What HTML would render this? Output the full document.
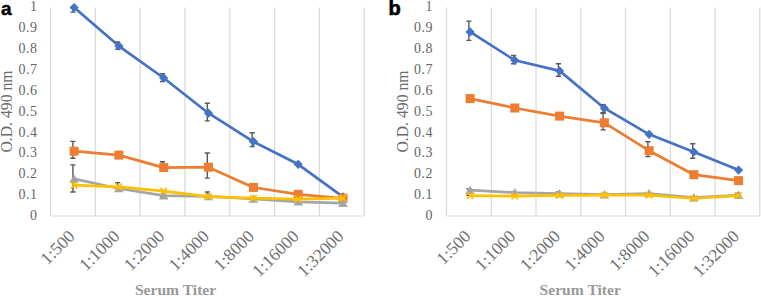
<!DOCTYPE html>
<html><head><meta charset="utf-8"><style>
html,body{margin:0;padding:0;background:#fff;}
body{width:761px;height:296px;overflow:hidden;}
svg{display:block;}
.yl{font-family:"Liberation Serif",serif;font-size:14px;fill:#666;text-anchor:end;letter-spacing:0.5px;}
.xl{font-family:"Liberation Serif",serif;font-size:17.5px;fill:#707070;text-anchor:end;}
.yt{font-family:"Liberation Serif",serif;font-size:15.7px;fill:#6a6a6a;text-anchor:middle;}
.xt{font-family:"Liberation Serif",serif;font-size:15.6px;font-weight:bold;fill:#999;}
.lt{font-family:"Liberation Sans",sans-serif;font-size:20px;font-weight:bold;fill:#000;stroke:#000;stroke-width:0.6px;}
</style></head><body>
<svg width="761" height="296" viewBox="0 0 761 296">
<line x1="50.5" y1="7.4" x2="50.5" y2="216.0" stroke="#d9d9d9" stroke-width="1.2"/>
<line x1="95.3" y1="7.4" x2="95.3" y2="216.0" stroke="#d9d9d9" stroke-width="1.2"/>
<line x1="140.1" y1="7.4" x2="140.1" y2="216.0" stroke="#d9d9d9" stroke-width="1.2"/>
<line x1="184.9" y1="7.4" x2="184.9" y2="216.0" stroke="#d9d9d9" stroke-width="1.2"/>
<line x1="229.8" y1="7.4" x2="229.8" y2="216.0" stroke="#d9d9d9" stroke-width="1.2"/>
<line x1="274.6" y1="7.4" x2="274.6" y2="216.0" stroke="#d9d9d9" stroke-width="1.2"/>
<line x1="319.4" y1="7.4" x2="319.4" y2="216.0" stroke="#d9d9d9" stroke-width="1.2"/>
<line x1="364.2" y1="7.4" x2="364.2" y2="216.0" stroke="#d9d9d9" stroke-width="1.2"/>
<line x1="50.5" y1="216.0" x2="364.2" y2="216.0" stroke="#d9d9d9" stroke-width="1.2"/>
<text x="37.6" y="219.9" class="yl">0</text>
<text x="37.6" y="199.1" class="yl">0.1</text>
<text x="37.6" y="178.2" class="yl">0.2</text>
<text x="37.6" y="157.3" class="yl">0.3</text>
<text x="37.6" y="136.5" class="yl">0.4</text>
<text x="37.6" y="115.7" class="yl">0.5</text>
<text x="37.6" y="94.8" class="yl">0.6</text>
<text x="37.6" y="74.0" class="yl">0.7</text>
<text x="37.6" y="53.1" class="yl">0.8</text>
<text x="37.6" y="32.2" class="yl">0.9</text>
<text x="37.6" y="11.4" class="yl">1</text>
<text transform="translate(75.8,237.3) rotate(-45)" class="xl">1:500</text>
<text transform="translate(120.6,237.3) rotate(-45)" class="xl">1:1000</text>
<text transform="translate(165.4,237.3) rotate(-45)" class="xl">1:2000</text>
<text transform="translate(210.2,237.3) rotate(-45)" class="xl">1:4000</text>
<text transform="translate(255.1,237.3) rotate(-45)" class="xl">1:8000</text>
<text transform="translate(299.9,237.3) rotate(-45)" class="xl">1:16000</text>
<text transform="translate(344.7,237.3) rotate(-45)" class="xl">1:32000</text>
<text transform="translate(11.7,111.5) rotate(-90)" class="yt">O.D. 490 nm</text>
<text x="134.9" y="294.8" class="xt">Serum Titer</text>
<text x="1.0" y="14.6" class="lt" style="stroke-width:0.45px;font-size:19px">a</text>
<polyline points="74.1,7.5 118.9,46.1 163.7,78.0 208.5,113.2 253.4,141.6 298.2,164.3 343.0,196.8" fill="none" stroke="#4472C4" stroke-width="2.7" stroke-linejoin="round" stroke-linecap="round"/>
<path d="M72.9,7.5 V12.1 M70.3,7.5 H75.5 M70.3,12.1 H75.5" stroke="#595959" stroke-width="1.4" fill="none"/>
<path d="M117.7,41.9 V49.2 M115.1,41.9 H120.3 M115.1,49.2 H120.3" stroke="#595959" stroke-width="1.4" fill="none"/>
<path d="M162.5,73.6 V81.5 M159.9,73.6 H165.1 M159.9,81.5 H165.1" stroke="#595959" stroke-width="1.4" fill="none"/>
<path d="M207.3,103.2 V120.9 M204.8,103.2 H209.9 M204.8,120.9 H209.9" stroke="#595959" stroke-width="1.4" fill="none"/>
<path d="M252.2,132.8 V146.6 M249.6,132.8 H254.8 M249.6,146.6 H254.8" stroke="#595959" stroke-width="1.4" fill="none"/>
<path d="M341.8,194.1 V199.3 M339.2,194.1 H344.4 M339.2,199.3 H344.4" stroke="#595959" stroke-width="1.4" fill="none"/>
<path d="M74.1,2.9 L78.7,7.5 L74.1,12.1 L69.5,7.5Z" fill="#4472C4"/>
<path d="M118.9,41.5 L123.5,46.1 L118.9,50.7 L114.3,46.1Z" fill="#4472C4"/>
<path d="M163.7,73.4 L168.3,78.0 L163.7,82.6 L159.1,78.0Z" fill="#4472C4"/>
<path d="M208.5,108.6 L213.1,113.2 L208.5,117.8 L203.9,113.2Z" fill="#4472C4"/>
<path d="M253.4,137.0 L258.0,141.6 L253.4,146.2 L248.8,141.6Z" fill="#4472C4"/>
<path d="M298.2,159.7 L302.8,164.3 L298.2,168.9 L293.6,164.3Z" fill="#4472C4"/>
<path d="M343.0,192.2 L347.6,196.8 L343.0,201.4 L338.4,196.8Z" fill="#4472C4"/>
<polyline points="74.1,151.2 118.9,155.1 163.7,167.6 208.5,167.2 253.4,187.4 298.2,194.3 343.0,198.3" fill="none" stroke="#ED7D31" stroke-width="2.7" stroke-linejoin="round" stroke-linecap="round"/>
<path d="M72.9,141.4 V158.2 M70.3,141.4 H75.5 M70.3,158.2 H75.5" stroke="#595959" stroke-width="1.4" fill="none"/>
<path d="M162.5,161.8 V170.1 M159.9,161.8 H165.1 M159.9,170.1 H165.1" stroke="#595959" stroke-width="1.4" fill="none"/>
<path d="M207.3,153.0 V178.1 M204.8,153.0 H209.9 M204.8,178.1 H209.9" stroke="#595959" stroke-width="1.4" fill="none"/>
<rect x="69.6" y="146.7" width="9" height="9" fill="#ED7D31"/>
<rect x="114.4" y="150.6" width="9" height="9" fill="#ED7D31"/>
<rect x="159.2" y="163.1" width="9" height="9" fill="#ED7D31"/>
<rect x="204.0" y="162.7" width="9" height="9" fill="#ED7D31"/>
<rect x="248.9" y="182.9" width="9" height="9" fill="#ED7D31"/>
<rect x="293.7" y="189.8" width="9" height="9" fill="#ED7D31"/>
<rect x="338.5" y="193.8" width="9" height="9" fill="#ED7D31"/>
<polyline points="74.1,178.9 118.9,188.5 163.7,195.6 208.5,196.4 253.4,198.9 298.2,201.8 343.0,203.1" fill="none" stroke="#A5A5A5" stroke-width="2.7" stroke-linejoin="round" stroke-linecap="round"/>
<path d="M72.9,164.9 V192.0 M70.3,164.9 H75.5 M70.3,192.0 H75.5" stroke="#595959" stroke-width="1.4" fill="none"/>
<path d="M117.7,182.6 V191.0 M115.1,182.6 H120.3 M115.1,191.0 H120.3" stroke="#595959" stroke-width="1.4" fill="none"/>
<path d="M162.5,191.0 V197.2 M159.9,191.0 H165.1 M159.9,197.2 H165.1" stroke="#595959" stroke-width="1.4" fill="none"/>
<path d="M207.3,192.0 V199.3 M204.8,192.0 H209.9 M204.8,199.3 H209.9" stroke="#595959" stroke-width="1.4" fill="none"/>
<path d="M74.1,174.3 L78.9,182.7 L69.3,182.7Z" fill="#A5A5A5"/>
<path d="M118.9,183.9 L123.7,192.3 L114.1,192.3Z" fill="#A5A5A5"/>
<path d="M163.7,191.0 L168.5,199.4 L158.9,199.4Z" fill="#A5A5A5"/>
<path d="M208.5,191.8 L213.3,200.2 L203.7,200.2Z" fill="#A5A5A5"/>
<path d="M253.4,194.3 L258.2,202.7 L248.6,202.7Z" fill="#A5A5A5"/>
<path d="M298.2,197.2 L303.0,205.6 L293.4,205.6Z" fill="#A5A5A5"/>
<path d="M343.0,198.5 L347.8,206.9 L338.2,206.9Z" fill="#A5A5A5"/>
<polyline points="74.1,185.1 118.9,186.8 163.7,191.2 208.5,196.6 253.4,198.1 298.2,199.1 343.0,198.1" fill="none" stroke="#FFC000" stroke-width="2.7" stroke-linejoin="round" stroke-linecap="round"/>
<path d="M70.8,181.8 L77.4,188.4 M77.4,181.8 L70.8,188.4" stroke="#FFC000" stroke-width="1.6"/>
<path d="M115.6,183.5 L122.2,190.1 M122.2,183.5 L115.6,190.1" stroke="#FFC000" stroke-width="1.6"/>
<path d="M160.4,187.9 L167.0,194.5 M167.0,187.9 L160.4,194.5" stroke="#FFC000" stroke-width="1.6"/>
<path d="M205.2,193.3 L211.8,199.9 M211.8,193.3 L205.2,199.9" stroke="#FFC000" stroke-width="1.6"/>
<path d="M250.1,194.8 L256.7,201.4 M256.7,194.8 L250.1,201.4" stroke="#FFC000" stroke-width="1.6"/>
<path d="M294.9,195.8 L301.5,202.4 M301.5,195.8 L294.9,202.4" stroke="#FFC000" stroke-width="1.6"/>
<path d="M339.7,194.8 L346.3,201.4 M346.3,194.8 L339.7,201.4" stroke="#FFC000" stroke-width="1.6"/>
<line x1="446.5" y1="7.4" x2="446.5" y2="216.0" stroke="#d9d9d9" stroke-width="1.2"/>
<line x1="491.3" y1="7.4" x2="491.3" y2="216.0" stroke="#d9d9d9" stroke-width="1.2"/>
<line x1="536.0" y1="7.4" x2="536.0" y2="216.0" stroke="#d9d9d9" stroke-width="1.2"/>
<line x1="580.8" y1="7.4" x2="580.8" y2="216.0" stroke="#d9d9d9" stroke-width="1.2"/>
<line x1="625.5" y1="7.4" x2="625.5" y2="216.0" stroke="#d9d9d9" stroke-width="1.2"/>
<line x1="670.3" y1="7.4" x2="670.3" y2="216.0" stroke="#d9d9d9" stroke-width="1.2"/>
<line x1="715.0" y1="7.4" x2="715.0" y2="216.0" stroke="#d9d9d9" stroke-width="1.2"/>
<line x1="759.8" y1="7.4" x2="759.8" y2="216.0" stroke="#d9d9d9" stroke-width="1.2"/>
<line x1="446.5" y1="216.0" x2="759.8" y2="216.0" stroke="#d9d9d9" stroke-width="1.2"/>
<text x="433.1" y="219.9" class="yl">0</text>
<text x="433.1" y="199.1" class="yl">0.1</text>
<text x="433.1" y="178.2" class="yl">0.2</text>
<text x="433.1" y="157.3" class="yl">0.3</text>
<text x="433.1" y="136.5" class="yl">0.4</text>
<text x="433.1" y="115.7" class="yl">0.5</text>
<text x="433.1" y="94.8" class="yl">0.6</text>
<text x="433.1" y="74.0" class="yl">0.7</text>
<text x="433.1" y="53.1" class="yl">0.8</text>
<text x="433.1" y="32.2" class="yl">0.9</text>
<text x="433.1" y="11.4" class="yl">1</text>
<text transform="translate(471.8,237.3) rotate(-45)" class="xl">1:500</text>
<text transform="translate(516.5,237.3) rotate(-45)" class="xl">1:1000</text>
<text transform="translate(561.3,237.3) rotate(-45)" class="xl">1:2000</text>
<text transform="translate(606.0,237.3) rotate(-45)" class="xl">1:4000</text>
<text transform="translate(650.8,237.3) rotate(-45)" class="xl">1:8000</text>
<text transform="translate(695.6,237.3) rotate(-45)" class="xl">1:16000</text>
<text transform="translate(740.3,237.3) rotate(-45)" class="xl">1:32000</text>
<text transform="translate(407.5,111.5) rotate(-90)" class="yt">O.D. 490 nm</text>
<text x="539.6" y="294.8" class="xt">Serum Titer</text>
<text x="388.5" y="15.2" class="lt">b</text>
<polyline points="470.1,31.9 514.8,60.3 559.6,70.9 604.4,108.2 649.1,134.3 693.9,152.0 738.6,170.1" fill="none" stroke="#4472C4" stroke-width="2.7" stroke-linejoin="round" stroke-linecap="round"/>
<path d="M468.9,21.1 V40.4 M466.3,21.1 H471.5 M466.3,40.4 H471.5" stroke="#595959" stroke-width="1.4" fill="none"/>
<path d="M513.6,55.5 V63.8 M511.0,55.5 H516.2 M511.0,63.8 H516.2" stroke="#595959" stroke-width="1.4" fill="none"/>
<path d="M558.4,63.8 V76.3 M555.8,63.8 H561.0 M555.8,76.3 H561.0" stroke="#595959" stroke-width="1.4" fill="none"/>
<path d="M603.1,104.7 V112.8 M600.5,104.7 H605.8 M600.5,112.8 H605.8" stroke="#595959" stroke-width="1.4" fill="none"/>
<path d="M692.7,143.7 V158.2 M690.1,143.7 H695.3 M690.1,158.2 H695.3" stroke="#595959" stroke-width="1.4" fill="none"/>
<path d="M470.1,27.3 L474.7,31.9 L470.1,36.5 L465.5,31.9Z" fill="#4472C4"/>
<path d="M514.8,55.7 L519.4,60.3 L514.8,64.9 L510.2,60.3Z" fill="#4472C4"/>
<path d="M559.6,66.3 L564.2,70.9 L559.6,75.5 L555.0,70.9Z" fill="#4472C4"/>
<path d="M604.4,103.6 L609.0,108.2 L604.4,112.8 L599.8,108.2Z" fill="#4472C4"/>
<path d="M649.1,129.7 L653.7,134.3 L649.1,138.9 L644.5,134.3Z" fill="#4472C4"/>
<path d="M693.9,147.4 L698.5,152.0 L693.9,156.6 L689.3,152.0Z" fill="#4472C4"/>
<path d="M738.6,165.5 L743.2,170.1 L738.6,174.7 L734.0,170.1Z" fill="#4472C4"/>
<polyline points="470.1,98.6 514.8,108.0 559.6,116.1 604.4,122.8 649.1,150.7 693.9,174.7 738.6,180.6" fill="none" stroke="#ED7D31" stroke-width="2.7" stroke-linejoin="round" stroke-linecap="round"/>
<path d="M603.1,113.2 V129.9 M600.5,113.2 H605.8 M600.5,129.9 H605.8" stroke="#595959" stroke-width="1.4" fill="none"/>
<path d="M647.9,141.8 V156.6 M645.3,141.8 H650.5 M645.3,156.6 H650.5" stroke="#595959" stroke-width="1.4" fill="none"/>
<rect x="465.6" y="94.1" width="9" height="9" fill="#ED7D31"/>
<rect x="510.3" y="103.5" width="9" height="9" fill="#ED7D31"/>
<rect x="555.1" y="111.6" width="9" height="9" fill="#ED7D31"/>
<rect x="599.9" y="118.3" width="9" height="9" fill="#ED7D31"/>
<rect x="644.6" y="146.2" width="9" height="9" fill="#ED7D31"/>
<rect x="689.4" y="170.2" width="9" height="9" fill="#ED7D31"/>
<rect x="734.1" y="176.1" width="9" height="9" fill="#ED7D31"/>
<polyline points="470.1,190.1 514.8,192.6 559.6,193.7 604.4,194.7 649.1,193.5 693.9,197.7 738.6,195.2" fill="none" stroke="#A5A5A5" stroke-width="2.7" stroke-linejoin="round" stroke-linecap="round"/>
<path d="M468.9,188.9 V195.2 M466.3,188.9 H471.5 M466.3,195.2 H471.5" stroke="#595959" stroke-width="1.4" fill="none"/>
<path d="M558.4,192.0 V195.2 M555.8,192.0 H561.0 M555.8,195.2 H561.0" stroke="#595959" stroke-width="1.4" fill="none"/>
<path d="M737.4,193.1 V197.2 M734.8,193.1 H740.0 M734.8,197.2 H740.0" stroke="#595959" stroke-width="1.4" fill="none"/>
<path d="M470.1,185.5 L474.9,193.9 L465.3,193.9Z" fill="#A5A5A5"/>
<path d="M514.8,188.0 L519.6,196.4 L510.0,196.4Z" fill="#A5A5A5"/>
<path d="M559.6,189.1 L564.4,197.5 L554.8,197.5Z" fill="#A5A5A5"/>
<path d="M604.4,190.1 L609.1,198.5 L599.6,198.5Z" fill="#A5A5A5"/>
<path d="M649.1,188.9 L653.9,197.3 L644.3,197.3Z" fill="#A5A5A5"/>
<path d="M693.9,193.1 L698.7,201.5 L689.1,201.5Z" fill="#A5A5A5"/>
<path d="M738.6,190.6 L743.4,199.0 L733.8,199.0Z" fill="#A5A5A5"/>
<polyline points="470.1,195.6 514.8,196.2 559.6,195.4 604.4,195.2 649.1,195.2 693.9,198.5 738.6,195.6" fill="none" stroke="#FFC000" stroke-width="2.7" stroke-linejoin="round" stroke-linecap="round"/>
<path d="M466.8,192.3 L473.4,198.9 M473.4,192.3 L466.8,198.9" stroke="#FFC000" stroke-width="1.6"/>
<path d="M511.5,192.9 L518.1,199.5 M518.1,192.9 L511.5,199.5" stroke="#FFC000" stroke-width="1.6"/>
<path d="M556.3,192.1 L562.9,198.7 M562.9,192.1 L556.3,198.7" stroke="#FFC000" stroke-width="1.6"/>
<path d="M601.1,191.8 L607.6,198.5 M607.6,191.8 L601.1,198.5" stroke="#FFC000" stroke-width="1.6"/>
<path d="M645.8,191.8 L652.4,198.5 M652.4,191.8 L645.8,198.5" stroke="#FFC000" stroke-width="1.6"/>
<path d="M690.6,195.2 L697.2,201.8 M697.2,195.2 L690.6,201.8" stroke="#FFC000" stroke-width="1.6"/>
<path d="M735.3,192.3 L741.9,198.9 M741.9,192.3 L735.3,198.9" stroke="#FFC000" stroke-width="1.6"/>
</svg>
</body></html>
